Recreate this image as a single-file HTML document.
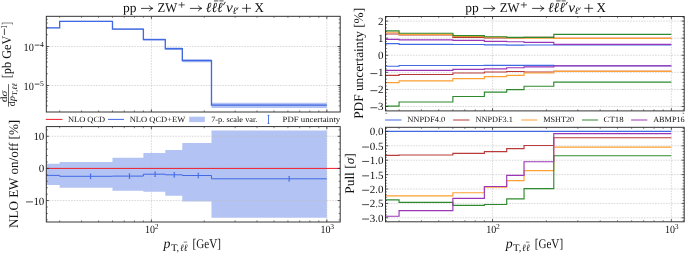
<!DOCTYPE html>
<html><head><meta charset="utf-8"><style>
html,body{margin:0;padding:0;background:#fff;}
svg{display:block;}
.tx{will-change:transform;}
text{font-family:"Liberation Serif",serif;fill:#111;text-rendering:geometricPrecision;}
</style></head><body>
<svg width="685" height="253" viewBox="0 0 685 253">
<rect width="685" height="253" fill="#fff"/>
<clipPath id="cTL"><rect x="46.3" y="16.3" width="293.9" height="95.7"/></clipPath>
<clipPath id="cBL"><rect x="46.3" y="126.6" width="293.9" height="95.4"/></clipPath>
<clipPath id="cTR"><rect x="385.5" y="16.5" width="298.70000000000005" height="94.4"/></clipPath>
<clipPath id="cBR"><rect x="385.5" y="127.3" width="298.70000000000005" height="94.50000000000001"/></clipPath>
<g clip-path="url(#cTL)">
<path d="M46.3,27.19H59.66V20.65H112.48V28.14H143.37V38.5H165.29V47.6H182.3V59H211.48V102.8H326.85V107.9H211.48V62.3H182.3V49.7H165.29V40.57H143.37V29.9H112.48V22.03H59.66V28.33H46.3Z" fill="#b3c3f3"/>
<line x1="46.3" y1="46.5" x2="340.2" y2="46.5" stroke="#c0c0c0" stroke-width="0.6" stroke-dasharray="1.6 1.15"/>
<line x1="46.3" y1="85.5" x2="340.2" y2="85.5" stroke="#c0c0c0" stroke-width="0.6" stroke-dasharray="1.6 1.15"/>
<line x1="151.4" y1="16.3" x2="151.4" y2="112" stroke="#c0c0c0" stroke-width="0.6" stroke-dasharray="1.6 1.15"/>
<line x1="326.85" y1="16.3" x2="326.85" y2="112" stroke="#c0c0c0" stroke-width="0.6" stroke-dasharray="1.6 1.15"/>
<line x1="151.4" y1="16.3" x2="151.4" y2="18.9" stroke="#2a2a2a" stroke-width="0.8" />
<line x1="151.4" y1="112" x2="151.4" y2="109.4" stroke="#2a2a2a" stroke-width="0.8" />
<line x1="326.85" y1="16.3" x2="326.85" y2="18.9" stroke="#2a2a2a" stroke-width="0.8" />
<line x1="326.85" y1="112" x2="326.85" y2="109.4" stroke="#2a2a2a" stroke-width="0.8" />
<line x1="59.66" y1="16.3" x2="59.66" y2="17.9" stroke="#2a2a2a" stroke-width="0.6" />
<line x1="59.66" y1="112" x2="59.66" y2="110.4" stroke="#2a2a2a" stroke-width="0.6" />
<line x1="81.58" y1="16.3" x2="81.58" y2="17.9" stroke="#2a2a2a" stroke-width="0.6" />
<line x1="81.58" y1="112" x2="81.58" y2="110.4" stroke="#2a2a2a" stroke-width="0.6" />
<line x1="98.58" y1="16.3" x2="98.58" y2="17.9" stroke="#2a2a2a" stroke-width="0.6" />
<line x1="98.58" y1="112" x2="98.58" y2="110.4" stroke="#2a2a2a" stroke-width="0.6" />
<line x1="112.48" y1="16.3" x2="112.48" y2="17.9" stroke="#2a2a2a" stroke-width="0.6" />
<line x1="112.48" y1="112" x2="112.48" y2="110.4" stroke="#2a2a2a" stroke-width="0.6" />
<line x1="124.22" y1="16.3" x2="124.22" y2="17.9" stroke="#2a2a2a" stroke-width="0.6" />
<line x1="124.22" y1="112" x2="124.22" y2="110.4" stroke="#2a2a2a" stroke-width="0.6" />
<line x1="134.4" y1="16.3" x2="134.4" y2="17.9" stroke="#2a2a2a" stroke-width="0.6" />
<line x1="134.4" y1="112" x2="134.4" y2="110.4" stroke="#2a2a2a" stroke-width="0.6" />
<line x1="143.37" y1="16.3" x2="143.37" y2="17.9" stroke="#2a2a2a" stroke-width="0.6" />
<line x1="143.37" y1="112" x2="143.37" y2="110.4" stroke="#2a2a2a" stroke-width="0.6" />
<line x1="204.22" y1="16.3" x2="204.22" y2="17.9" stroke="#2a2a2a" stroke-width="0.6" />
<line x1="204.22" y1="112" x2="204.22" y2="110.4" stroke="#2a2a2a" stroke-width="0.6" />
<line x1="235.11" y1="16.3" x2="235.11" y2="17.9" stroke="#2a2a2a" stroke-width="0.6" />
<line x1="235.11" y1="112" x2="235.11" y2="110.4" stroke="#2a2a2a" stroke-width="0.6" />
<line x1="257.03" y1="16.3" x2="257.03" y2="17.9" stroke="#2a2a2a" stroke-width="0.6" />
<line x1="257.03" y1="112" x2="257.03" y2="110.4" stroke="#2a2a2a" stroke-width="0.6" />
<line x1="274.03" y1="16.3" x2="274.03" y2="17.9" stroke="#2a2a2a" stroke-width="0.6" />
<line x1="274.03" y1="112" x2="274.03" y2="110.4" stroke="#2a2a2a" stroke-width="0.6" />
<line x1="287.93" y1="16.3" x2="287.93" y2="17.9" stroke="#2a2a2a" stroke-width="0.6" />
<line x1="287.93" y1="112" x2="287.93" y2="110.4" stroke="#2a2a2a" stroke-width="0.6" />
<line x1="299.67" y1="16.3" x2="299.67" y2="17.9" stroke="#2a2a2a" stroke-width="0.6" />
<line x1="299.67" y1="112" x2="299.67" y2="110.4" stroke="#2a2a2a" stroke-width="0.6" />
<line x1="309.85" y1="16.3" x2="309.85" y2="17.9" stroke="#2a2a2a" stroke-width="0.6" />
<line x1="309.85" y1="112" x2="309.85" y2="110.4" stroke="#2a2a2a" stroke-width="0.6" />
<line x1="318.82" y1="16.3" x2="318.82" y2="17.9" stroke="#2a2a2a" stroke-width="0.6" />
<line x1="318.82" y1="112" x2="318.82" y2="110.4" stroke="#2a2a2a" stroke-width="0.6" />
<path d="M46.3,27.8H59.66V21.4H112.48V29.1H143.37V39.6H165.29V48.7H182.3V60.6H211.48V105.1H326.85" fill="none" stroke="#4169e1" stroke-width="1.35"/>
</g>
<line x1="46.3" y1="46.5" x2="48.9" y2="46.5" stroke="#2a2a2a" stroke-width="0.8" />
<line x1="340.2" y1="46.5" x2="337.6" y2="46.5" stroke="#2a2a2a" stroke-width="0.8" />
<line x1="46.3" y1="85.5" x2="48.9" y2="85.5" stroke="#2a2a2a" stroke-width="0.8" />
<line x1="340.2" y1="85.5" x2="337.6" y2="85.5" stroke="#2a2a2a" stroke-width="0.8" />
<line x1="46.3" y1="105.89" x2="47.9" y2="105.89" stroke="#2a2a2a" stroke-width="0.6" />
<line x1="340.2" y1="105.89" x2="338.6" y2="105.89" stroke="#2a2a2a" stroke-width="0.6" />
<line x1="46.3" y1="101.02" x2="47.9" y2="101.02" stroke="#2a2a2a" stroke-width="0.6" />
<line x1="340.2" y1="101.02" x2="338.6" y2="101.02" stroke="#2a2a2a" stroke-width="0.6" />
<line x1="46.3" y1="97.24" x2="47.9" y2="97.24" stroke="#2a2a2a" stroke-width="0.6" />
<line x1="340.2" y1="97.24" x2="338.6" y2="97.24" stroke="#2a2a2a" stroke-width="0.6" />
<line x1="46.3" y1="94.15" x2="47.9" y2="94.15" stroke="#2a2a2a" stroke-width="0.6" />
<line x1="340.2" y1="94.15" x2="338.6" y2="94.15" stroke="#2a2a2a" stroke-width="0.6" />
<line x1="46.3" y1="91.54" x2="47.9" y2="91.54" stroke="#2a2a2a" stroke-width="0.6" />
<line x1="340.2" y1="91.54" x2="338.6" y2="91.54" stroke="#2a2a2a" stroke-width="0.6" />
<line x1="46.3" y1="89.28" x2="47.9" y2="89.28" stroke="#2a2a2a" stroke-width="0.6" />
<line x1="340.2" y1="89.28" x2="338.6" y2="89.28" stroke="#2a2a2a" stroke-width="0.6" />
<line x1="46.3" y1="87.28" x2="47.9" y2="87.28" stroke="#2a2a2a" stroke-width="0.6" />
<line x1="340.2" y1="87.28" x2="338.6" y2="87.28" stroke="#2a2a2a" stroke-width="0.6" />
<line x1="46.3" y1="73.76" x2="47.9" y2="73.76" stroke="#2a2a2a" stroke-width="0.6" />
<line x1="340.2" y1="73.76" x2="338.6" y2="73.76" stroke="#2a2a2a" stroke-width="0.6" />
<line x1="46.3" y1="66.89" x2="47.9" y2="66.89" stroke="#2a2a2a" stroke-width="0.6" />
<line x1="340.2" y1="66.89" x2="338.6" y2="66.89" stroke="#2a2a2a" stroke-width="0.6" />
<line x1="46.3" y1="62.02" x2="47.9" y2="62.02" stroke="#2a2a2a" stroke-width="0.6" />
<line x1="340.2" y1="62.02" x2="338.6" y2="62.02" stroke="#2a2a2a" stroke-width="0.6" />
<line x1="46.3" y1="58.24" x2="47.9" y2="58.24" stroke="#2a2a2a" stroke-width="0.6" />
<line x1="340.2" y1="58.24" x2="338.6" y2="58.24" stroke="#2a2a2a" stroke-width="0.6" />
<line x1="46.3" y1="55.15" x2="47.9" y2="55.15" stroke="#2a2a2a" stroke-width="0.6" />
<line x1="340.2" y1="55.15" x2="338.6" y2="55.15" stroke="#2a2a2a" stroke-width="0.6" />
<line x1="46.3" y1="52.54" x2="47.9" y2="52.54" stroke="#2a2a2a" stroke-width="0.6" />
<line x1="340.2" y1="52.54" x2="338.6" y2="52.54" stroke="#2a2a2a" stroke-width="0.6" />
<line x1="46.3" y1="50.28" x2="47.9" y2="50.28" stroke="#2a2a2a" stroke-width="0.6" />
<line x1="340.2" y1="50.28" x2="338.6" y2="50.28" stroke="#2a2a2a" stroke-width="0.6" />
<line x1="46.3" y1="48.28" x2="47.9" y2="48.28" stroke="#2a2a2a" stroke-width="0.6" />
<line x1="340.2" y1="48.28" x2="338.6" y2="48.28" stroke="#2a2a2a" stroke-width="0.6" />
<line x1="46.3" y1="34.76" x2="47.9" y2="34.76" stroke="#2a2a2a" stroke-width="0.6" />
<line x1="340.2" y1="34.76" x2="338.6" y2="34.76" stroke="#2a2a2a" stroke-width="0.6" />
<line x1="46.3" y1="27.89" x2="47.9" y2="27.89" stroke="#2a2a2a" stroke-width="0.6" />
<line x1="340.2" y1="27.89" x2="338.6" y2="27.89" stroke="#2a2a2a" stroke-width="0.6" />
<line x1="46.3" y1="23.02" x2="47.9" y2="23.02" stroke="#2a2a2a" stroke-width="0.6" />
<line x1="340.2" y1="23.02" x2="338.6" y2="23.02" stroke="#2a2a2a" stroke-width="0.6" />
<line x1="46.3" y1="19.24" x2="47.9" y2="19.24" stroke="#2a2a2a" stroke-width="0.6" />
<line x1="340.2" y1="19.24" x2="338.6" y2="19.24" stroke="#2a2a2a" stroke-width="0.6" />
<rect x="46.3" y="16.3" width="293.9" height="95.7" fill="none" stroke="#2a2a2a" stroke-width="0.95"/>
<g clip-path="url(#cBL)">
<path d="M46.3,163.75H59.66V162H112.48V157.8H143.37V153H165.29V149.9H182.3V142.9H211.48V130.4H326.85V217.7H211.48V201.5H182.3V195.8H165.29V191.8H143.37V190.7H112.48V187.7H59.66V185.1H46.3Z" fill="#b3c3f3"/>
<line x1="46.3" y1="136.27" x2="340.2" y2="136.27" stroke="#c0c0c0" stroke-width="0.6" stroke-dasharray="1.6 1.15"/>
<line x1="46.3" y1="168.42" x2="340.2" y2="168.42" stroke="#c0c0c0" stroke-width="0.6" stroke-dasharray="1.6 1.15"/>
<line x1="46.3" y1="200.57" x2="340.2" y2="200.57" stroke="#c0c0c0" stroke-width="0.6" stroke-dasharray="1.6 1.15"/>
<line x1="151.4" y1="126.6" x2="151.4" y2="222" stroke="#c0c0c0" stroke-width="0.6" stroke-dasharray="1.6 1.15"/>
<line x1="326.85" y1="126.6" x2="326.85" y2="222" stroke="#c0c0c0" stroke-width="0.6" stroke-dasharray="1.6 1.15"/>
<line x1="151.4" y1="126.6" x2="151.4" y2="129.2" stroke="#2a2a2a" stroke-width="0.8" />
<line x1="151.4" y1="222" x2="151.4" y2="219.4" stroke="#2a2a2a" stroke-width="0.8" />
<line x1="326.85" y1="126.6" x2="326.85" y2="129.2" stroke="#2a2a2a" stroke-width="0.8" />
<line x1="326.85" y1="222" x2="326.85" y2="219.4" stroke="#2a2a2a" stroke-width="0.8" />
<line x1="59.66" y1="126.6" x2="59.66" y2="128.2" stroke="#2a2a2a" stroke-width="0.6" />
<line x1="59.66" y1="222" x2="59.66" y2="220.4" stroke="#2a2a2a" stroke-width="0.6" />
<line x1="81.58" y1="126.6" x2="81.58" y2="128.2" stroke="#2a2a2a" stroke-width="0.6" />
<line x1="81.58" y1="222" x2="81.58" y2="220.4" stroke="#2a2a2a" stroke-width="0.6" />
<line x1="98.58" y1="126.6" x2="98.58" y2="128.2" stroke="#2a2a2a" stroke-width="0.6" />
<line x1="98.58" y1="222" x2="98.58" y2="220.4" stroke="#2a2a2a" stroke-width="0.6" />
<line x1="112.48" y1="126.6" x2="112.48" y2="128.2" stroke="#2a2a2a" stroke-width="0.6" />
<line x1="112.48" y1="222" x2="112.48" y2="220.4" stroke="#2a2a2a" stroke-width="0.6" />
<line x1="124.22" y1="126.6" x2="124.22" y2="128.2" stroke="#2a2a2a" stroke-width="0.6" />
<line x1="124.22" y1="222" x2="124.22" y2="220.4" stroke="#2a2a2a" stroke-width="0.6" />
<line x1="134.4" y1="126.6" x2="134.4" y2="128.2" stroke="#2a2a2a" stroke-width="0.6" />
<line x1="134.4" y1="222" x2="134.4" y2="220.4" stroke="#2a2a2a" stroke-width="0.6" />
<line x1="143.37" y1="126.6" x2="143.37" y2="128.2" stroke="#2a2a2a" stroke-width="0.6" />
<line x1="143.37" y1="222" x2="143.37" y2="220.4" stroke="#2a2a2a" stroke-width="0.6" />
<line x1="204.22" y1="126.6" x2="204.22" y2="128.2" stroke="#2a2a2a" stroke-width="0.6" />
<line x1="204.22" y1="222" x2="204.22" y2="220.4" stroke="#2a2a2a" stroke-width="0.6" />
<line x1="235.11" y1="126.6" x2="235.11" y2="128.2" stroke="#2a2a2a" stroke-width="0.6" />
<line x1="235.11" y1="222" x2="235.11" y2="220.4" stroke="#2a2a2a" stroke-width="0.6" />
<line x1="257.03" y1="126.6" x2="257.03" y2="128.2" stroke="#2a2a2a" stroke-width="0.6" />
<line x1="257.03" y1="222" x2="257.03" y2="220.4" stroke="#2a2a2a" stroke-width="0.6" />
<line x1="274.03" y1="126.6" x2="274.03" y2="128.2" stroke="#2a2a2a" stroke-width="0.6" />
<line x1="274.03" y1="222" x2="274.03" y2="220.4" stroke="#2a2a2a" stroke-width="0.6" />
<line x1="287.93" y1="126.6" x2="287.93" y2="128.2" stroke="#2a2a2a" stroke-width="0.6" />
<line x1="287.93" y1="222" x2="287.93" y2="220.4" stroke="#2a2a2a" stroke-width="0.6" />
<line x1="299.67" y1="126.6" x2="299.67" y2="128.2" stroke="#2a2a2a" stroke-width="0.6" />
<line x1="299.67" y1="222" x2="299.67" y2="220.4" stroke="#2a2a2a" stroke-width="0.6" />
<line x1="309.85" y1="126.6" x2="309.85" y2="128.2" stroke="#2a2a2a" stroke-width="0.6" />
<line x1="309.85" y1="222" x2="309.85" y2="220.4" stroke="#2a2a2a" stroke-width="0.6" />
<line x1="318.82" y1="126.6" x2="318.82" y2="128.2" stroke="#2a2a2a" stroke-width="0.6" />
<line x1="318.82" y1="222" x2="318.82" y2="220.4" stroke="#2a2a2a" stroke-width="0.6" />
<line x1="46.3" y1="168.42" x2="340.2" y2="168.42" stroke="#f01e2c" stroke-width="1.0" />
<path d="M46.3,175.4H59.66V176.3H112.48V176.1H143.37V174.2H165.29V174.8H182.3V175.5H211.48V178.8H326.85" fill="none" stroke="#4169e1" stroke-width="1.0"/>
<line x1="90.56" y1="174" x2="90.56" y2="178.6" stroke="#4169e1" stroke-width="1.0" />
<line x1="89.66" y1="174" x2="91.46" y2="174" stroke="#4169e1" stroke-width="0.6" />
<line x1="89.66" y1="178.6" x2="91.46" y2="178.6" stroke="#4169e1" stroke-width="0.6" />
<line x1="129.48" y1="173.8" x2="129.48" y2="178.4" stroke="#4169e1" stroke-width="1.0" />
<line x1="128.58" y1="173.8" x2="130.38" y2="173.8" stroke="#4169e1" stroke-width="0.6" />
<line x1="128.58" y1="178.4" x2="130.38" y2="178.4" stroke="#4169e1" stroke-width="0.6" />
<line x1="155.12" y1="171.9" x2="155.12" y2="176.5" stroke="#4169e1" stroke-width="1.0" />
<line x1="154.22" y1="171.9" x2="156.02" y2="171.9" stroke="#4169e1" stroke-width="0.6" />
<line x1="154.22" y1="176.5" x2="156.02" y2="176.5" stroke="#4169e1" stroke-width="0.6" />
<line x1="174.27" y1="172.5" x2="174.27" y2="177.1" stroke="#4169e1" stroke-width="1.0" />
<line x1="173.37" y1="172.5" x2="175.17" y2="172.5" stroke="#4169e1" stroke-width="0.6" />
<line x1="173.37" y1="177.1" x2="175.17" y2="177.1" stroke="#4169e1" stroke-width="0.6" />
<line x1="198.28" y1="173.2" x2="198.28" y2="177.8" stroke="#4169e1" stroke-width="1.0" />
<line x1="197.38" y1="173.2" x2="199.18" y2="173.2" stroke="#4169e1" stroke-width="0.6" />
<line x1="197.38" y1="177.8" x2="199.18" y2="177.8" stroke="#4169e1" stroke-width="0.6" />
<line x1="289.19" y1="176.5" x2="289.19" y2="181.1" stroke="#4169e1" stroke-width="1.0" />
<line x1="288.29" y1="176.5" x2="290.09" y2="176.5" stroke="#4169e1" stroke-width="0.6" />
<line x1="288.29" y1="181.1" x2="290.09" y2="181.1" stroke="#4169e1" stroke-width="0.6" />
</g>
<line x1="46.3" y1="136.27" x2="48.9" y2="136.27" stroke="#2a2a2a" stroke-width="0.8" />
<line x1="340.2" y1="136.27" x2="337.6" y2="136.27" stroke="#2a2a2a" stroke-width="0.8" />
<line x1="46.3" y1="168.42" x2="48.9" y2="168.42" stroke="#2a2a2a" stroke-width="0.8" />
<line x1="340.2" y1="168.42" x2="337.6" y2="168.42" stroke="#2a2a2a" stroke-width="0.8" />
<line x1="46.3" y1="200.57" x2="48.9" y2="200.57" stroke="#2a2a2a" stroke-width="0.8" />
<line x1="340.2" y1="200.57" x2="337.6" y2="200.57" stroke="#2a2a2a" stroke-width="0.8" />
<line x1="46.3" y1="219.86" x2="47.9" y2="219.86" stroke="#2a2a2a" stroke-width="0.6" />
<line x1="340.2" y1="219.86" x2="338.6" y2="219.86" stroke="#2a2a2a" stroke-width="0.6" />
<line x1="46.3" y1="213.43" x2="47.9" y2="213.43" stroke="#2a2a2a" stroke-width="0.6" />
<line x1="340.2" y1="213.43" x2="338.6" y2="213.43" stroke="#2a2a2a" stroke-width="0.6" />
<line x1="46.3" y1="207" x2="47.9" y2="207" stroke="#2a2a2a" stroke-width="0.6" />
<line x1="340.2" y1="207" x2="338.6" y2="207" stroke="#2a2a2a" stroke-width="0.6" />
<line x1="46.3" y1="194.14" x2="47.9" y2="194.14" stroke="#2a2a2a" stroke-width="0.6" />
<line x1="340.2" y1="194.14" x2="338.6" y2="194.14" stroke="#2a2a2a" stroke-width="0.6" />
<line x1="46.3" y1="187.71" x2="47.9" y2="187.71" stroke="#2a2a2a" stroke-width="0.6" />
<line x1="340.2" y1="187.71" x2="338.6" y2="187.71" stroke="#2a2a2a" stroke-width="0.6" />
<line x1="46.3" y1="181.28" x2="47.9" y2="181.28" stroke="#2a2a2a" stroke-width="0.6" />
<line x1="340.2" y1="181.28" x2="338.6" y2="181.28" stroke="#2a2a2a" stroke-width="0.6" />
<line x1="46.3" y1="174.85" x2="47.9" y2="174.85" stroke="#2a2a2a" stroke-width="0.6" />
<line x1="340.2" y1="174.85" x2="338.6" y2="174.85" stroke="#2a2a2a" stroke-width="0.6" />
<line x1="46.3" y1="161.99" x2="47.9" y2="161.99" stroke="#2a2a2a" stroke-width="0.6" />
<line x1="340.2" y1="161.99" x2="338.6" y2="161.99" stroke="#2a2a2a" stroke-width="0.6" />
<line x1="46.3" y1="155.56" x2="47.9" y2="155.56" stroke="#2a2a2a" stroke-width="0.6" />
<line x1="340.2" y1="155.56" x2="338.6" y2="155.56" stroke="#2a2a2a" stroke-width="0.6" />
<line x1="46.3" y1="149.13" x2="47.9" y2="149.13" stroke="#2a2a2a" stroke-width="0.6" />
<line x1="340.2" y1="149.13" x2="338.6" y2="149.13" stroke="#2a2a2a" stroke-width="0.6" />
<line x1="46.3" y1="142.7" x2="47.9" y2="142.7" stroke="#2a2a2a" stroke-width="0.6" />
<line x1="340.2" y1="142.7" x2="338.6" y2="142.7" stroke="#2a2a2a" stroke-width="0.6" />
<line x1="46.3" y1="129.84" x2="47.9" y2="129.84" stroke="#2a2a2a" stroke-width="0.6" />
<line x1="340.2" y1="129.84" x2="338.6" y2="129.84" stroke="#2a2a2a" stroke-width="0.6" />
<rect x="46.3" y="126.6" width="293.9" height="95.4" fill="none" stroke="#2a2a2a" stroke-width="0.95"/>
<g clip-path="url(#cTR)">
<line x1="385.5" y1="106.49" x2="684.2" y2="106.49" stroke="#c0c0c0" stroke-width="0.6" stroke-dasharray="1.6 1.15"/>
<line x1="385.5" y1="89.41" x2="684.2" y2="89.41" stroke="#c0c0c0" stroke-width="0.6" stroke-dasharray="1.6 1.15"/>
<line x1="385.5" y1="72.33" x2="684.2" y2="72.33" stroke="#c0c0c0" stroke-width="0.6" stroke-dasharray="1.6 1.15"/>
<line x1="385.5" y1="55.25" x2="684.2" y2="55.25" stroke="#c0c0c0" stroke-width="0.6" stroke-dasharray="1.6 1.15"/>
<line x1="385.5" y1="38.17" x2="684.2" y2="38.17" stroke="#c0c0c0" stroke-width="0.6" stroke-dasharray="1.6 1.15"/>
<line x1="385.5" y1="21.09" x2="684.2" y2="21.09" stroke="#c0c0c0" stroke-width="0.6" stroke-dasharray="1.6 1.15"/>
<line x1="492.55" y1="16.5" x2="492.55" y2="110.9" stroke="#c0c0c0" stroke-width="0.6" stroke-dasharray="1.6 1.15"/>
<line x1="671.35" y1="16.5" x2="671.35" y2="110.9" stroke="#c0c0c0" stroke-width="0.6" stroke-dasharray="1.6 1.15"/>
<line x1="492.55" y1="16.5" x2="492.55" y2="19.1" stroke="#2a2a2a" stroke-width="0.8" />
<line x1="492.55" y1="110.9" x2="492.55" y2="108.3" stroke="#2a2a2a" stroke-width="0.8" />
<line x1="671.35" y1="16.5" x2="671.35" y2="19.1" stroke="#2a2a2a" stroke-width="0.8" />
<line x1="671.35" y1="110.9" x2="671.35" y2="108.3" stroke="#2a2a2a" stroke-width="0.8" />
<line x1="399.06" y1="16.5" x2="399.06" y2="18.1" stroke="#2a2a2a" stroke-width="0.6" />
<line x1="399.06" y1="110.9" x2="399.06" y2="109.3" stroke="#2a2a2a" stroke-width="0.6" />
<line x1="421.4" y1="16.5" x2="421.4" y2="18.1" stroke="#2a2a2a" stroke-width="0.6" />
<line x1="421.4" y1="110.9" x2="421.4" y2="109.3" stroke="#2a2a2a" stroke-width="0.6" />
<line x1="438.73" y1="16.5" x2="438.73" y2="18.1" stroke="#2a2a2a" stroke-width="0.6" />
<line x1="438.73" y1="110.9" x2="438.73" y2="109.3" stroke="#2a2a2a" stroke-width="0.6" />
<line x1="452.88" y1="16.5" x2="452.88" y2="18.1" stroke="#2a2a2a" stroke-width="0.6" />
<line x1="452.88" y1="110.9" x2="452.88" y2="109.3" stroke="#2a2a2a" stroke-width="0.6" />
<line x1="464.85" y1="16.5" x2="464.85" y2="18.1" stroke="#2a2a2a" stroke-width="0.6" />
<line x1="464.85" y1="110.9" x2="464.85" y2="109.3" stroke="#2a2a2a" stroke-width="0.6" />
<line x1="475.22" y1="16.5" x2="475.22" y2="18.1" stroke="#2a2a2a" stroke-width="0.6" />
<line x1="475.22" y1="110.9" x2="475.22" y2="109.3" stroke="#2a2a2a" stroke-width="0.6" />
<line x1="484.37" y1="16.5" x2="484.37" y2="18.1" stroke="#2a2a2a" stroke-width="0.6" />
<line x1="484.37" y1="110.9" x2="484.37" y2="109.3" stroke="#2a2a2a" stroke-width="0.6" />
<line x1="546.37" y1="16.5" x2="546.37" y2="18.1" stroke="#2a2a2a" stroke-width="0.6" />
<line x1="546.37" y1="110.9" x2="546.37" y2="109.3" stroke="#2a2a2a" stroke-width="0.6" />
<line x1="577.86" y1="16.5" x2="577.86" y2="18.1" stroke="#2a2a2a" stroke-width="0.6" />
<line x1="577.86" y1="110.9" x2="577.86" y2="109.3" stroke="#2a2a2a" stroke-width="0.6" />
<line x1="600.2" y1="16.5" x2="600.2" y2="18.1" stroke="#2a2a2a" stroke-width="0.6" />
<line x1="600.2" y1="110.9" x2="600.2" y2="109.3" stroke="#2a2a2a" stroke-width="0.6" />
<line x1="617.53" y1="16.5" x2="617.53" y2="18.1" stroke="#2a2a2a" stroke-width="0.6" />
<line x1="617.53" y1="110.9" x2="617.53" y2="109.3" stroke="#2a2a2a" stroke-width="0.6" />
<line x1="631.68" y1="16.5" x2="631.68" y2="18.1" stroke="#2a2a2a" stroke-width="0.6" />
<line x1="631.68" y1="110.9" x2="631.68" y2="109.3" stroke="#2a2a2a" stroke-width="0.6" />
<line x1="643.65" y1="16.5" x2="643.65" y2="18.1" stroke="#2a2a2a" stroke-width="0.6" />
<line x1="643.65" y1="110.9" x2="643.65" y2="109.3" stroke="#2a2a2a" stroke-width="0.6" />
<line x1="654.02" y1="16.5" x2="654.02" y2="18.1" stroke="#2a2a2a" stroke-width="0.6" />
<line x1="654.02" y1="110.9" x2="654.02" y2="109.3" stroke="#2a2a2a" stroke-width="0.6" />
<line x1="663.17" y1="16.5" x2="663.17" y2="18.1" stroke="#2a2a2a" stroke-width="0.6" />
<line x1="663.17" y1="110.9" x2="663.17" y2="109.3" stroke="#2a2a2a" stroke-width="0.6" />
<path d="M385.5,43.6H399.06V44.4H452.88V44.5H484.37V44.9H506.71V45.1H524.04V45H553.78V44.8H671.35" fill="none" stroke="#4169e1" stroke-width="1.15"/>
<path d="M385.5,66.2H399.06V65.5H452.88V65.5H484.37V65.3H506.71V65.3H524.04V65.3H553.78V65.7H671.35" fill="none" stroke="#4169e1" stroke-width="1.15"/>
<path d="M385.5,34H399.06V34.9H452.88V37.4H484.37V37.8H506.71V37.9H524.04V37.4H553.78V38.3H671.35" fill="none" stroke="#b83a3a" stroke-width="1.15"/>
<path d="M385.5,75.4H399.06V74.5H452.88V73H484.37V72H506.71V71.5H524.04V72H553.78V71.3H671.35" fill="none" stroke="#b83a3a" stroke-width="1.15"/>
<path d="M385.5,32.2H399.06V34.4H452.88V36.5H484.37V37.2H506.71V37.9H524.04V38.1H553.78V38.3H671.35" fill="none" stroke="#ffa033" stroke-width="1.15"/>
<path d="M385.5,82.6H399.06V80.8H452.88V78.6H484.37V76.6H506.71V75.3H524.04V73H553.78V71.3H671.35" fill="none" stroke="#ffa033" stroke-width="1.15"/>
<path d="M385.5,30.8H399.06V33.2H452.88V35.6H484.37V36.7H506.71V37.4H524.04V37.4H553.78V34.3H671.35" fill="none" stroke="#2f8a2f" stroke-width="1.15"/>
<path d="M385.5,106.1H399.06V102H452.88V96.5H484.37V92.1H506.71V89.6H524.04V86.2H553.78V82.1H671.35" fill="none" stroke="#2f8a2f" stroke-width="1.15"/>
<path d="M385.5,39.3H399.06V39.9H452.88V40.3H484.37V41.4H506.71V41.7H524.04V42.4H553.78V44.3H671.35" fill="none" stroke="#9b36b7" stroke-width="1.15"/>
<path d="M385.5,70.3H399.06V70.3H452.88V69.3H484.37V68.8H506.71V67.7H524.04V66.8H553.78V65.9H671.35" fill="none" stroke="#9b36b7" stroke-width="1.15"/>
</g>
<line x1="385.5" y1="106.49" x2="388.1" y2="106.49" stroke="#2a2a2a" stroke-width="0.8" />
<line x1="684.2" y1="106.49" x2="681.6" y2="106.49" stroke="#2a2a2a" stroke-width="0.8" />
<line x1="385.5" y1="89.41" x2="388.1" y2="89.41" stroke="#2a2a2a" stroke-width="0.8" />
<line x1="684.2" y1="89.41" x2="681.6" y2="89.41" stroke="#2a2a2a" stroke-width="0.8" />
<line x1="385.5" y1="72.33" x2="388.1" y2="72.33" stroke="#2a2a2a" stroke-width="0.8" />
<line x1="684.2" y1="72.33" x2="681.6" y2="72.33" stroke="#2a2a2a" stroke-width="0.8" />
<line x1="385.5" y1="55.25" x2="388.1" y2="55.25" stroke="#2a2a2a" stroke-width="0.8" />
<line x1="684.2" y1="55.25" x2="681.6" y2="55.25" stroke="#2a2a2a" stroke-width="0.8" />
<line x1="385.5" y1="38.17" x2="388.1" y2="38.17" stroke="#2a2a2a" stroke-width="0.8" />
<line x1="684.2" y1="38.17" x2="681.6" y2="38.17" stroke="#2a2a2a" stroke-width="0.8" />
<line x1="385.5" y1="21.09" x2="388.1" y2="21.09" stroke="#2a2a2a" stroke-width="0.8" />
<line x1="684.2" y1="21.09" x2="681.6" y2="21.09" stroke="#2a2a2a" stroke-width="0.8" />
<line x1="385.5" y1="113.32" x2="387.1" y2="113.32" stroke="#2a2a2a" stroke-width="0.6" />
<line x1="684.2" y1="113.32" x2="682.6" y2="113.32" stroke="#2a2a2a" stroke-width="0.6" />
<line x1="385.5" y1="109.91" x2="387.1" y2="109.91" stroke="#2a2a2a" stroke-width="0.6" />
<line x1="684.2" y1="109.91" x2="682.6" y2="109.91" stroke="#2a2a2a" stroke-width="0.6" />
<line x1="385.5" y1="103.07" x2="387.1" y2="103.07" stroke="#2a2a2a" stroke-width="0.6" />
<line x1="684.2" y1="103.07" x2="682.6" y2="103.07" stroke="#2a2a2a" stroke-width="0.6" />
<line x1="385.5" y1="99.66" x2="387.1" y2="99.66" stroke="#2a2a2a" stroke-width="0.6" />
<line x1="684.2" y1="99.66" x2="682.6" y2="99.66" stroke="#2a2a2a" stroke-width="0.6" />
<line x1="385.5" y1="96.24" x2="387.1" y2="96.24" stroke="#2a2a2a" stroke-width="0.6" />
<line x1="684.2" y1="96.24" x2="682.6" y2="96.24" stroke="#2a2a2a" stroke-width="0.6" />
<line x1="385.5" y1="92.83" x2="387.1" y2="92.83" stroke="#2a2a2a" stroke-width="0.6" />
<line x1="684.2" y1="92.83" x2="682.6" y2="92.83" stroke="#2a2a2a" stroke-width="0.6" />
<line x1="385.5" y1="85.99" x2="387.1" y2="85.99" stroke="#2a2a2a" stroke-width="0.6" />
<line x1="684.2" y1="85.99" x2="682.6" y2="85.99" stroke="#2a2a2a" stroke-width="0.6" />
<line x1="385.5" y1="82.58" x2="387.1" y2="82.58" stroke="#2a2a2a" stroke-width="0.6" />
<line x1="684.2" y1="82.58" x2="682.6" y2="82.58" stroke="#2a2a2a" stroke-width="0.6" />
<line x1="385.5" y1="79.16" x2="387.1" y2="79.16" stroke="#2a2a2a" stroke-width="0.6" />
<line x1="684.2" y1="79.16" x2="682.6" y2="79.16" stroke="#2a2a2a" stroke-width="0.6" />
<line x1="385.5" y1="75.75" x2="387.1" y2="75.75" stroke="#2a2a2a" stroke-width="0.6" />
<line x1="684.2" y1="75.75" x2="682.6" y2="75.75" stroke="#2a2a2a" stroke-width="0.6" />
<line x1="385.5" y1="68.91" x2="387.1" y2="68.91" stroke="#2a2a2a" stroke-width="0.6" />
<line x1="684.2" y1="68.91" x2="682.6" y2="68.91" stroke="#2a2a2a" stroke-width="0.6" />
<line x1="385.5" y1="65.5" x2="387.1" y2="65.5" stroke="#2a2a2a" stroke-width="0.6" />
<line x1="684.2" y1="65.5" x2="682.6" y2="65.5" stroke="#2a2a2a" stroke-width="0.6" />
<line x1="385.5" y1="62.08" x2="387.1" y2="62.08" stroke="#2a2a2a" stroke-width="0.6" />
<line x1="684.2" y1="62.08" x2="682.6" y2="62.08" stroke="#2a2a2a" stroke-width="0.6" />
<line x1="385.5" y1="58.67" x2="387.1" y2="58.67" stroke="#2a2a2a" stroke-width="0.6" />
<line x1="684.2" y1="58.67" x2="682.6" y2="58.67" stroke="#2a2a2a" stroke-width="0.6" />
<line x1="385.5" y1="51.83" x2="387.1" y2="51.83" stroke="#2a2a2a" stroke-width="0.6" />
<line x1="684.2" y1="51.83" x2="682.6" y2="51.83" stroke="#2a2a2a" stroke-width="0.6" />
<line x1="385.5" y1="48.42" x2="387.1" y2="48.42" stroke="#2a2a2a" stroke-width="0.6" />
<line x1="684.2" y1="48.42" x2="682.6" y2="48.42" stroke="#2a2a2a" stroke-width="0.6" />
<line x1="385.5" y1="45" x2="387.1" y2="45" stroke="#2a2a2a" stroke-width="0.6" />
<line x1="684.2" y1="45" x2="682.6" y2="45" stroke="#2a2a2a" stroke-width="0.6" />
<line x1="385.5" y1="41.59" x2="387.1" y2="41.59" stroke="#2a2a2a" stroke-width="0.6" />
<line x1="684.2" y1="41.59" x2="682.6" y2="41.59" stroke="#2a2a2a" stroke-width="0.6" />
<line x1="385.5" y1="34.75" x2="387.1" y2="34.75" stroke="#2a2a2a" stroke-width="0.6" />
<line x1="684.2" y1="34.75" x2="682.6" y2="34.75" stroke="#2a2a2a" stroke-width="0.6" />
<line x1="385.5" y1="31.34" x2="387.1" y2="31.34" stroke="#2a2a2a" stroke-width="0.6" />
<line x1="684.2" y1="31.34" x2="682.6" y2="31.34" stroke="#2a2a2a" stroke-width="0.6" />
<line x1="385.5" y1="27.92" x2="387.1" y2="27.92" stroke="#2a2a2a" stroke-width="0.6" />
<line x1="684.2" y1="27.92" x2="682.6" y2="27.92" stroke="#2a2a2a" stroke-width="0.6" />
<line x1="385.5" y1="24.51" x2="387.1" y2="24.51" stroke="#2a2a2a" stroke-width="0.6" />
<line x1="684.2" y1="24.51" x2="682.6" y2="24.51" stroke="#2a2a2a" stroke-width="0.6" />
<line x1="385.5" y1="17.67" x2="387.1" y2="17.67" stroke="#2a2a2a" stroke-width="0.6" />
<line x1="684.2" y1="17.67" x2="682.6" y2="17.67" stroke="#2a2a2a" stroke-width="0.6" />
<rect x="385.5" y="16.5" width="298.7" height="94.4" fill="none" stroke="#2a2a2a" stroke-width="0.95"/>
<g clip-path="url(#cBR)">
<line x1="385.5" y1="217.8" x2="684.2" y2="217.8" stroke="#c0c0c0" stroke-width="0.6" stroke-dasharray="1.6 1.15"/>
<line x1="385.5" y1="203.4" x2="684.2" y2="203.4" stroke="#c0c0c0" stroke-width="0.6" stroke-dasharray="1.6 1.15"/>
<line x1="385.5" y1="189" x2="684.2" y2="189" stroke="#c0c0c0" stroke-width="0.6" stroke-dasharray="1.6 1.15"/>
<line x1="385.5" y1="174.6" x2="684.2" y2="174.6" stroke="#c0c0c0" stroke-width="0.6" stroke-dasharray="1.6 1.15"/>
<line x1="385.5" y1="160.2" x2="684.2" y2="160.2" stroke="#c0c0c0" stroke-width="0.6" stroke-dasharray="1.6 1.15"/>
<line x1="385.5" y1="145.8" x2="684.2" y2="145.8" stroke="#c0c0c0" stroke-width="0.6" stroke-dasharray="1.6 1.15"/>
<line x1="385.5" y1="131.4" x2="684.2" y2="131.4" stroke="#c0c0c0" stroke-width="0.6" stroke-dasharray="1.6 1.15"/>
<line x1="492.55" y1="127.3" x2="492.55" y2="221.8" stroke="#c0c0c0" stroke-width="0.6" stroke-dasharray="1.6 1.15"/>
<line x1="671.35" y1="127.3" x2="671.35" y2="221.8" stroke="#c0c0c0" stroke-width="0.6" stroke-dasharray="1.6 1.15"/>
<line x1="492.55" y1="127.3" x2="492.55" y2="129.9" stroke="#2a2a2a" stroke-width="0.8" />
<line x1="492.55" y1="221.8" x2="492.55" y2="219.2" stroke="#2a2a2a" stroke-width="0.8" />
<line x1="671.35" y1="127.3" x2="671.35" y2="129.9" stroke="#2a2a2a" stroke-width="0.8" />
<line x1="671.35" y1="221.8" x2="671.35" y2="219.2" stroke="#2a2a2a" stroke-width="0.8" />
<line x1="399.06" y1="127.3" x2="399.06" y2="128.9" stroke="#2a2a2a" stroke-width="0.6" />
<line x1="399.06" y1="221.8" x2="399.06" y2="220.2" stroke="#2a2a2a" stroke-width="0.6" />
<line x1="421.4" y1="127.3" x2="421.4" y2="128.9" stroke="#2a2a2a" stroke-width="0.6" />
<line x1="421.4" y1="221.8" x2="421.4" y2="220.2" stroke="#2a2a2a" stroke-width="0.6" />
<line x1="438.73" y1="127.3" x2="438.73" y2="128.9" stroke="#2a2a2a" stroke-width="0.6" />
<line x1="438.73" y1="221.8" x2="438.73" y2="220.2" stroke="#2a2a2a" stroke-width="0.6" />
<line x1="452.88" y1="127.3" x2="452.88" y2="128.9" stroke="#2a2a2a" stroke-width="0.6" />
<line x1="452.88" y1="221.8" x2="452.88" y2="220.2" stroke="#2a2a2a" stroke-width="0.6" />
<line x1="464.85" y1="127.3" x2="464.85" y2="128.9" stroke="#2a2a2a" stroke-width="0.6" />
<line x1="464.85" y1="221.8" x2="464.85" y2="220.2" stroke="#2a2a2a" stroke-width="0.6" />
<line x1="475.22" y1="127.3" x2="475.22" y2="128.9" stroke="#2a2a2a" stroke-width="0.6" />
<line x1="475.22" y1="221.8" x2="475.22" y2="220.2" stroke="#2a2a2a" stroke-width="0.6" />
<line x1="484.37" y1="127.3" x2="484.37" y2="128.9" stroke="#2a2a2a" stroke-width="0.6" />
<line x1="484.37" y1="221.8" x2="484.37" y2="220.2" stroke="#2a2a2a" stroke-width="0.6" />
<line x1="546.37" y1="127.3" x2="546.37" y2="128.9" stroke="#2a2a2a" stroke-width="0.6" />
<line x1="546.37" y1="221.8" x2="546.37" y2="220.2" stroke="#2a2a2a" stroke-width="0.6" />
<line x1="577.86" y1="127.3" x2="577.86" y2="128.9" stroke="#2a2a2a" stroke-width="0.6" />
<line x1="577.86" y1="221.8" x2="577.86" y2="220.2" stroke="#2a2a2a" stroke-width="0.6" />
<line x1="600.2" y1="127.3" x2="600.2" y2="128.9" stroke="#2a2a2a" stroke-width="0.6" />
<line x1="600.2" y1="221.8" x2="600.2" y2="220.2" stroke="#2a2a2a" stroke-width="0.6" />
<line x1="617.53" y1="127.3" x2="617.53" y2="128.9" stroke="#2a2a2a" stroke-width="0.6" />
<line x1="617.53" y1="221.8" x2="617.53" y2="220.2" stroke="#2a2a2a" stroke-width="0.6" />
<line x1="631.68" y1="127.3" x2="631.68" y2="128.9" stroke="#2a2a2a" stroke-width="0.6" />
<line x1="631.68" y1="221.8" x2="631.68" y2="220.2" stroke="#2a2a2a" stroke-width="0.6" />
<line x1="643.65" y1="127.3" x2="643.65" y2="128.9" stroke="#2a2a2a" stroke-width="0.6" />
<line x1="643.65" y1="221.8" x2="643.65" y2="220.2" stroke="#2a2a2a" stroke-width="0.6" />
<line x1="654.02" y1="127.3" x2="654.02" y2="128.9" stroke="#2a2a2a" stroke-width="0.6" />
<line x1="654.02" y1="221.8" x2="654.02" y2="220.2" stroke="#2a2a2a" stroke-width="0.6" />
<line x1="663.17" y1="127.3" x2="663.17" y2="128.9" stroke="#2a2a2a" stroke-width="0.6" />
<line x1="663.17" y1="221.8" x2="663.17" y2="220.2" stroke="#2a2a2a" stroke-width="0.6" />
<path d="M385.5,131.4H399.06V131.4H452.88V131.4H484.37V131.4H506.71V131.4H524.04V131.4H553.78V131.4H671.35" fill="none" stroke="#4169e1" stroke-width="1.15"/>
<path d="M385.5,155.3H399.06V155H452.88V153.4H484.37V151.6H506.71V148.6H524.04V145.5H553.78V137.7H671.35" fill="none" stroke="#b83a3a" stroke-width="1.15"/>
<path d="M385.5,195.8H399.06V195.8H452.88V192.7H484.37V187.2H506.71V180.6H524.04V170.6H553.78V147.1H671.35" fill="none" stroke="#ffa033" stroke-width="1.15"/>
<path d="M385.5,199.8H399.06V202.3H452.88V205.4H484.37V204.5H506.71V198.8H524.04V188.6H553.78V155.7H671.35" fill="none" stroke="#2f8a2f" stroke-width="1.15"/>
<path d="M385.5,216.2H399.06V210.6H452.88V198.4H484.37V186.5H506.71V175.3H524.04V161.7H553.78V133.6H671.35" fill="none" stroke="#9b36b7" stroke-width="1.15"/>
</g>
<line x1="385.5" y1="217.8" x2="388.1" y2="217.8" stroke="#2a2a2a" stroke-width="0.8" />
<line x1="684.2" y1="217.8" x2="681.6" y2="217.8" stroke="#2a2a2a" stroke-width="0.8" />
<line x1="385.5" y1="203.4" x2="388.1" y2="203.4" stroke="#2a2a2a" stroke-width="0.8" />
<line x1="684.2" y1="203.4" x2="681.6" y2="203.4" stroke="#2a2a2a" stroke-width="0.8" />
<line x1="385.5" y1="189" x2="388.1" y2="189" stroke="#2a2a2a" stroke-width="0.8" />
<line x1="684.2" y1="189" x2="681.6" y2="189" stroke="#2a2a2a" stroke-width="0.8" />
<line x1="385.5" y1="174.6" x2="388.1" y2="174.6" stroke="#2a2a2a" stroke-width="0.8" />
<line x1="684.2" y1="174.6" x2="681.6" y2="174.6" stroke="#2a2a2a" stroke-width="0.8" />
<line x1="385.5" y1="160.2" x2="388.1" y2="160.2" stroke="#2a2a2a" stroke-width="0.8" />
<line x1="684.2" y1="160.2" x2="681.6" y2="160.2" stroke="#2a2a2a" stroke-width="0.8" />
<line x1="385.5" y1="145.8" x2="388.1" y2="145.8" stroke="#2a2a2a" stroke-width="0.8" />
<line x1="684.2" y1="145.8" x2="681.6" y2="145.8" stroke="#2a2a2a" stroke-width="0.8" />
<line x1="385.5" y1="131.4" x2="388.1" y2="131.4" stroke="#2a2a2a" stroke-width="0.8" />
<line x1="684.2" y1="131.4" x2="681.6" y2="131.4" stroke="#2a2a2a" stroke-width="0.8" />
<line x1="385.5" y1="220.68" x2="387.1" y2="220.68" stroke="#2a2a2a" stroke-width="0.6" />
<line x1="684.2" y1="220.68" x2="682.6" y2="220.68" stroke="#2a2a2a" stroke-width="0.6" />
<line x1="385.5" y1="214.92" x2="387.1" y2="214.92" stroke="#2a2a2a" stroke-width="0.6" />
<line x1="684.2" y1="214.92" x2="682.6" y2="214.92" stroke="#2a2a2a" stroke-width="0.6" />
<line x1="385.5" y1="212.04" x2="387.1" y2="212.04" stroke="#2a2a2a" stroke-width="0.6" />
<line x1="684.2" y1="212.04" x2="682.6" y2="212.04" stroke="#2a2a2a" stroke-width="0.6" />
<line x1="385.5" y1="209.16" x2="387.1" y2="209.16" stroke="#2a2a2a" stroke-width="0.6" />
<line x1="684.2" y1="209.16" x2="682.6" y2="209.16" stroke="#2a2a2a" stroke-width="0.6" />
<line x1="385.5" y1="206.28" x2="387.1" y2="206.28" stroke="#2a2a2a" stroke-width="0.6" />
<line x1="684.2" y1="206.28" x2="682.6" y2="206.28" stroke="#2a2a2a" stroke-width="0.6" />
<line x1="385.5" y1="200.52" x2="387.1" y2="200.52" stroke="#2a2a2a" stroke-width="0.6" />
<line x1="684.2" y1="200.52" x2="682.6" y2="200.52" stroke="#2a2a2a" stroke-width="0.6" />
<line x1="385.5" y1="197.64" x2="387.1" y2="197.64" stroke="#2a2a2a" stroke-width="0.6" />
<line x1="684.2" y1="197.64" x2="682.6" y2="197.64" stroke="#2a2a2a" stroke-width="0.6" />
<line x1="385.5" y1="194.76" x2="387.1" y2="194.76" stroke="#2a2a2a" stroke-width="0.6" />
<line x1="684.2" y1="194.76" x2="682.6" y2="194.76" stroke="#2a2a2a" stroke-width="0.6" />
<line x1="385.5" y1="191.88" x2="387.1" y2="191.88" stroke="#2a2a2a" stroke-width="0.6" />
<line x1="684.2" y1="191.88" x2="682.6" y2="191.88" stroke="#2a2a2a" stroke-width="0.6" />
<line x1="385.5" y1="186.12" x2="387.1" y2="186.12" stroke="#2a2a2a" stroke-width="0.6" />
<line x1="684.2" y1="186.12" x2="682.6" y2="186.12" stroke="#2a2a2a" stroke-width="0.6" />
<line x1="385.5" y1="183.24" x2="387.1" y2="183.24" stroke="#2a2a2a" stroke-width="0.6" />
<line x1="684.2" y1="183.24" x2="682.6" y2="183.24" stroke="#2a2a2a" stroke-width="0.6" />
<line x1="385.5" y1="180.36" x2="387.1" y2="180.36" stroke="#2a2a2a" stroke-width="0.6" />
<line x1="684.2" y1="180.36" x2="682.6" y2="180.36" stroke="#2a2a2a" stroke-width="0.6" />
<line x1="385.5" y1="177.48" x2="387.1" y2="177.48" stroke="#2a2a2a" stroke-width="0.6" />
<line x1="684.2" y1="177.48" x2="682.6" y2="177.48" stroke="#2a2a2a" stroke-width="0.6" />
<line x1="385.5" y1="171.72" x2="387.1" y2="171.72" stroke="#2a2a2a" stroke-width="0.6" />
<line x1="684.2" y1="171.72" x2="682.6" y2="171.72" stroke="#2a2a2a" stroke-width="0.6" />
<line x1="385.5" y1="168.84" x2="387.1" y2="168.84" stroke="#2a2a2a" stroke-width="0.6" />
<line x1="684.2" y1="168.84" x2="682.6" y2="168.84" stroke="#2a2a2a" stroke-width="0.6" />
<line x1="385.5" y1="165.96" x2="387.1" y2="165.96" stroke="#2a2a2a" stroke-width="0.6" />
<line x1="684.2" y1="165.96" x2="682.6" y2="165.96" stroke="#2a2a2a" stroke-width="0.6" />
<line x1="385.5" y1="163.08" x2="387.1" y2="163.08" stroke="#2a2a2a" stroke-width="0.6" />
<line x1="684.2" y1="163.08" x2="682.6" y2="163.08" stroke="#2a2a2a" stroke-width="0.6" />
<line x1="385.5" y1="157.32" x2="387.1" y2="157.32" stroke="#2a2a2a" stroke-width="0.6" />
<line x1="684.2" y1="157.32" x2="682.6" y2="157.32" stroke="#2a2a2a" stroke-width="0.6" />
<line x1="385.5" y1="154.44" x2="387.1" y2="154.44" stroke="#2a2a2a" stroke-width="0.6" />
<line x1="684.2" y1="154.44" x2="682.6" y2="154.44" stroke="#2a2a2a" stroke-width="0.6" />
<line x1="385.5" y1="151.56" x2="387.1" y2="151.56" stroke="#2a2a2a" stroke-width="0.6" />
<line x1="684.2" y1="151.56" x2="682.6" y2="151.56" stroke="#2a2a2a" stroke-width="0.6" />
<line x1="385.5" y1="148.68" x2="387.1" y2="148.68" stroke="#2a2a2a" stroke-width="0.6" />
<line x1="684.2" y1="148.68" x2="682.6" y2="148.68" stroke="#2a2a2a" stroke-width="0.6" />
<line x1="385.5" y1="142.92" x2="387.1" y2="142.92" stroke="#2a2a2a" stroke-width="0.6" />
<line x1="684.2" y1="142.92" x2="682.6" y2="142.92" stroke="#2a2a2a" stroke-width="0.6" />
<line x1="385.5" y1="140.04" x2="387.1" y2="140.04" stroke="#2a2a2a" stroke-width="0.6" />
<line x1="684.2" y1="140.04" x2="682.6" y2="140.04" stroke="#2a2a2a" stroke-width="0.6" />
<line x1="385.5" y1="137.16" x2="387.1" y2="137.16" stroke="#2a2a2a" stroke-width="0.6" />
<line x1="684.2" y1="137.16" x2="682.6" y2="137.16" stroke="#2a2a2a" stroke-width="0.6" />
<line x1="385.5" y1="134.28" x2="387.1" y2="134.28" stroke="#2a2a2a" stroke-width="0.6" />
<line x1="684.2" y1="134.28" x2="682.6" y2="134.28" stroke="#2a2a2a" stroke-width="0.6" />
<line x1="385.5" y1="128.52" x2="387.1" y2="128.52" stroke="#2a2a2a" stroke-width="0.6" />
<line x1="684.2" y1="128.52" x2="682.6" y2="128.52" stroke="#2a2a2a" stroke-width="0.6" />
<rect x="385.5" y="127.3" width="298.7" height="94.5" fill="none" stroke="#2a2a2a" stroke-width="0.95"/>
<g class="tx">
<text x="123" y="11.7" font-size="13.2" textLength="13.5" lengthAdjust="spacingAndGlyphs" >pp</text>
<path d="M141,8.4H152.6" stroke="#111" stroke-width="0.8" fill="none"/>
<path d="M149.3,5.5Q150,7.7 152.9,8.4Q150,9.1 149.3,11.3" stroke="#111" stroke-width="0.8" fill="none"/>
<text x="157.5" y="11.7" font-size="13.2" textLength="19.7" lengthAdjust="spacingAndGlyphs" >ZW</text>
<path d="M178.6,4.9H184.8M181.7,2.1V7.7" stroke="#111" stroke-width="0.7" fill="none"/>
<path d="M189.9,8.4H201.6" stroke="#111" stroke-width="0.8" fill="none"/>
<path d="M198.3,5.5Q199,7.7 201.9,8.4Q199,9.1 198.3,11.3" stroke="#111" stroke-width="0.8" fill="none"/>
<text x="205.7" y="11.7" font-size="13.9" textLength="5.6" lengthAdjust="spacingAndGlyphs" font-style="italic" >ℓ</text>
<text x="211.4" y="11.7" font-size="13.9" textLength="5.6" lengthAdjust="spacingAndGlyphs" font-style="italic" >ℓ</text>
<text x="217.1" y="11.7" font-size="13.9" textLength="5.6" lengthAdjust="spacingAndGlyphs" font-style="italic" >ℓ</text>
<path d="M214,0.9H218.4M219.4,0.9H223.6" stroke="#111" stroke-width="0.75"/>
<path d="M225.3,1.9L223.4,5.1" stroke="#111" stroke-width="0.9"/>
<text x="226" y="11.7" font-size="14.2" textLength="6.8" lengthAdjust="spacingAndGlyphs" font-style="italic" >ν</text>
<text x="232.4" y="13.7" font-size="9.8" textLength="4.2" lengthAdjust="spacingAndGlyphs" font-style="italic" >ℓ</text>
<path d="M238.2,7.4L236.9,9.9" stroke="#111" stroke-width="0.75"/>
<path d="M242.1,8.3H251M246.55,4V12.6" stroke="#111" stroke-width="0.8" fill="none"/>
<text x="254.4" y="11.7" font-size="13.2" textLength="9.4" lengthAdjust="spacingAndGlyphs" >X</text>
<text x="465.2" y="11.7" font-size="13.2" textLength="13.5" lengthAdjust="spacingAndGlyphs" >pp</text>
<path d="M483.2,8.4H494.8" stroke="#111" stroke-width="0.8" fill="none"/>
<path d="M491.5,5.5Q492.2,7.7 495.1,8.4Q492.2,9.1 491.5,11.3" stroke="#111" stroke-width="0.8" fill="none"/>
<text x="499.7" y="11.7" font-size="13.2" textLength="19.7" lengthAdjust="spacingAndGlyphs" >ZW</text>
<path d="M520.8,4.9H527M523.9,2.1V7.7" stroke="#111" stroke-width="0.7" fill="none"/>
<path d="M532.1,8.4H543.8" stroke="#111" stroke-width="0.8" fill="none"/>
<path d="M540.5,5.5Q541.2,7.7 544.1,8.4Q541.2,9.1 540.5,11.3" stroke="#111" stroke-width="0.8" fill="none"/>
<text x="547.9" y="11.7" font-size="13.9" textLength="5.6" lengthAdjust="spacingAndGlyphs" font-style="italic" >ℓ</text>
<text x="553.6" y="11.7" font-size="13.9" textLength="5.6" lengthAdjust="spacingAndGlyphs" font-style="italic" >ℓ</text>
<text x="559.3" y="11.7" font-size="13.9" textLength="5.6" lengthAdjust="spacingAndGlyphs" font-style="italic" >ℓ</text>
<path d="M556.2,0.9H560.6M561.6,0.9H565.8" stroke="#111" stroke-width="0.75"/>
<path d="M567.5,1.9L565.6,5.1" stroke="#111" stroke-width="0.9"/>
<text x="568.2" y="11.7" font-size="14.2" textLength="6.8" lengthAdjust="spacingAndGlyphs" font-style="italic" >ν</text>
<text x="574.6" y="13.7" font-size="9.8" textLength="4.2" lengthAdjust="spacingAndGlyphs" font-style="italic" >ℓ</text>
<path d="M580.4,7.4L579.1,9.9" stroke="#111" stroke-width="0.75"/>
<path d="M584.3,8.3H593.2M588.75,4V12.6" stroke="#111" stroke-width="0.8" fill="none"/>
<text x="596.6" y="11.7" font-size="13.2" textLength="9.4" lengthAdjust="spacingAndGlyphs" >X</text>
<text x="145.1" y="232.7" font-size="11.0" textLength="10" lengthAdjust="spacingAndGlyphs" >10</text>
<text x="154.8" y="229.2" font-size="7.6" >2</text>
<text x="320.55" y="232.7" font-size="11.0" textLength="10" lengthAdjust="spacingAndGlyphs" >10</text>
<text x="330.25" y="229.2" font-size="7.6" >3</text>
<text x="486.25" y="232.7" font-size="11.0" textLength="10" lengthAdjust="spacingAndGlyphs" >10</text>
<text x="495.95" y="229.2" font-size="7.6" >2</text>
<text x="665.05" y="232.7" font-size="11.0" textLength="10" lengthAdjust="spacingAndGlyphs" >10</text>
<text x="674.75" y="229.2" font-size="7.6" >3</text>
<text x="163.6" y="247.5" font-size="13.8" textLength="6.9" lengthAdjust="spacingAndGlyphs" font-style="italic" >p</text>
<text x="170.9" y="251" font-size="9.8" textLength="8.4" lengthAdjust="spacingAndGlyphs" >T,</text>
<text x="179.9" y="251" font-size="9.8" textLength="7.6" lengthAdjust="spacingAndGlyphs" font-style="italic" >ℓℓ</text>
<path d="M183.7,242.1H187.2" stroke="#111" stroke-width="0.55"/>
<text x="192.5" y="248.3" font-size="13.2" textLength="28.4" lengthAdjust="spacingAndGlyphs" >[GeV]</text>
<text x="505.8" y="247.5" font-size="13.8" textLength="6.9" lengthAdjust="spacingAndGlyphs" font-style="italic" >p</text>
<text x="513.1" y="251" font-size="9.8" textLength="8.4" lengthAdjust="spacingAndGlyphs" >T,</text>
<text x="522.1" y="251" font-size="9.8" textLength="7.6" lengthAdjust="spacingAndGlyphs" font-style="italic" >ℓℓ</text>
<path d="M525.9,242.1H529.4" stroke="#111" stroke-width="0.55"/>
<text x="534.7" y="248.3" font-size="13.2" textLength="28.4" lengthAdjust="spacingAndGlyphs" >[GeV]</text>
<text x="23.6" y="50.6" font-size="11.0" textLength="10.3" lengthAdjust="spacingAndGlyphs" >10</text>
<path d="M34.69,45.11H39.56" stroke="#111" stroke-width="0.75"/>
<text x="39.93" y="47.4" font-size="7.7" >4</text>
<text x="23.6" y="89.6" font-size="11.0" textLength="10.3" lengthAdjust="spacingAndGlyphs" >10</text>
<path d="M34.69,84.11H39.56" stroke="#111" stroke-width="0.75"/>
<text x="39.93" y="86.4" font-size="7.7" >5</text>
<text x="33.49" y="140.27" font-size="11.02" >1</text>
<text x="38.79" y="140.27" font-size="11.02" >0</text>
<text x="38.79" y="172.42" font-size="11.02" >0</text>
<path d="M25.99,201.92H32.96" stroke="#111" stroke-width="0.75"/>
<text x="33.49" y="204.57" font-size="11.02" >1</text>
<text x="38.79" y="204.57" font-size="11.02" >0</text>
<path d="M370.39,107.74H377.36" stroke="#111" stroke-width="0.75"/>
<text x="377.89" y="110.39" font-size="11.02" >3</text>
<path d="M370.39,90.66H377.36" stroke="#111" stroke-width="0.75"/>
<text x="377.89" y="93.31" font-size="11.02" >2</text>
<path d="M370.39,73.58H377.36" stroke="#111" stroke-width="0.75"/>
<text x="377.89" y="76.23" font-size="11.02" >1</text>
<text x="377.89" y="59.15" font-size="11.02" >0</text>
<text x="377.89" y="42.07" font-size="11.02" >1</text>
<text x="377.89" y="24.99" font-size="11.02" >2</text>
<path d="M362.14,219.05H369.12" stroke="#111" stroke-width="0.75"/>
<text x="369.65" y="221.7" font-size="11.02" >3</text>
<circle cx="376.53" cy="221.15" r="0.62" fill="#111"/>
<text x="377.89" y="221.7" font-size="11.02" >0</text>
<path d="M362.14,204.65H369.12" stroke="#111" stroke-width="0.75"/>
<text x="369.65" y="207.3" font-size="11.02" >2</text>
<circle cx="376.53" cy="206.75" r="0.62" fill="#111"/>
<text x="377.89" y="207.3" font-size="11.02" >5</text>
<path d="M362.14,190.25H369.12" stroke="#111" stroke-width="0.75"/>
<text x="369.65" y="192.9" font-size="11.02" >2</text>
<circle cx="376.53" cy="192.35" r="0.62" fill="#111"/>
<text x="377.89" y="192.9" font-size="11.02" >0</text>
<path d="M362.14,175.85H369.12" stroke="#111" stroke-width="0.75"/>
<text x="369.65" y="178.5" font-size="11.02" >1</text>
<circle cx="376.53" cy="177.95" r="0.62" fill="#111"/>
<text x="377.89" y="178.5" font-size="11.02" >5</text>
<path d="M362.14,161.45H369.12" stroke="#111" stroke-width="0.75"/>
<text x="369.65" y="164.1" font-size="11.02" >1</text>
<circle cx="376.53" cy="163.55" r="0.62" fill="#111"/>
<text x="377.89" y="164.1" font-size="11.02" >0</text>
<path d="M362.14,147.05H369.12" stroke="#111" stroke-width="0.75"/>
<text x="369.65" y="149.7" font-size="11.02" >0</text>
<circle cx="376.53" cy="149.15" r="0.62" fill="#111"/>
<text x="377.89" y="149.7" font-size="11.02" >5</text>
<text x="369.65" y="135.3" font-size="11.02" >0</text>
<circle cx="376.53" cy="134.75" r="0.62" fill="#111"/>
<text x="377.89" y="135.3" font-size="11.02" >0</text>
<text transform="translate(11.3,78.3) rotate(-90)" font-size="13.2" textLength="42.6" lengthAdjust="spacingAndGlyphs">[pb GeV</text>
<path d="M4.4,35V28.6" stroke="#111" stroke-width="0.75"/>
<text transform="translate(7.2,28.4) rotate(-90)" font-size="9.4" textLength="3.2" lengthAdjust="spacingAndGlyphs">1</text>
<text transform="translate(11.3,25.1) rotate(-90)" font-size="13.2" textLength="3" lengthAdjust="spacingAndGlyphs">]</text>
<path d="M8.5,84.2V106.7" stroke="#111" stroke-width="0.65"/>
<text transform="translate(7.3,102.3) rotate(-90)" font-size="9.6" textLength="11.6" lengthAdjust="spacingAndGlyphs">d<tspan font-style="italic">σ</tspan></text>
<text transform="translate(15.4,106.6) rotate(-90)" font-size="9.6" textLength="23.4" lengthAdjust="spacingAndGlyphs">d<tspan font-style="italic">p</tspan><tspan font-size="7.2" dy="1.9">T,<tspan font-style="italic">ℓℓ</tspan></tspan></text>
<text transform="translate(18,173.95) rotate(-90)" text-anchor="middle" font-size="13.2" textLength="108.2" lengthAdjust="spacingAndGlyphs">NLO EW on/off [%]</text>
<text transform="translate(362.8,63.35) rotate(-90)" text-anchor="middle" font-size="13.2" textLength="111" lengthAdjust="spacingAndGlyphs">PDF uncertainty [%]</text>
<text transform="translate(354.3,173.5) rotate(-90)" text-anchor="middle" font-size="13.2" textLength="40.5" lengthAdjust="spacingAndGlyphs">Pull [<tspan font-style="italic">σ</tspan>]</text>
<line x1="45.8" y1="119.4" x2="62.4" y2="119.4" stroke="#f01e2c" stroke-width="1.0"/>
<text x="68" y="121.8" font-size="8.0" textLength="37.1" lengthAdjust="spacingAndGlyphs" >NLO QCD</text>
<line x1="108" y1="119.4" x2="124" y2="119.4" stroke="#4169e1" stroke-width="1.0"/>
<text x="129.7" y="121.8" font-size="8.0" textLength="55.6" lengthAdjust="spacingAndGlyphs" >NLO QCD+EW</text>
<rect x="189.2" y="116.7" width="15.6" height="5.4" fill="#b3c3f3"/>
<text x="211.2" y="121.8" font-size="8.0" textLength="46.2" lengthAdjust="spacingAndGlyphs" >7-p. scale var.</text>
<path d="M268.5,115.1V123.8M267.6,115.4H269.4M267.6,123.5H269.4" stroke="#4169e1" stroke-width="0.9" fill="none"/>
<text x="282.6" y="121.8" font-size="8.0" textLength="57.6" lengthAdjust="spacingAndGlyphs" >PDF uncertainty</text>
<line x1="385.1" y1="120" x2="401.5" y2="120" stroke="#4169e1" stroke-width="1.0"/>
<text x="407.3" y="122.4" font-size="8.0" textLength="38" lengthAdjust="spacingAndGlyphs" >NNPDF4.0</text>
<line x1="453.1" y1="120" x2="469.5" y2="120" stroke="#b83a3a" stroke-width="1.0"/>
<text x="475.5" y="122.4" font-size="8.0" textLength="37.4" lengthAdjust="spacingAndGlyphs" >NNPDF3.1</text>
<line x1="521.2" y1="120" x2="537.3" y2="120" stroke="#ffa033" stroke-width="1.0"/>
<text x="543.2" y="122.4" font-size="8.0" textLength="31" lengthAdjust="spacingAndGlyphs" >MSHT20</text>
<line x1="582" y1="120" x2="598.1" y2="120" stroke="#2f8a2f" stroke-width="1.0"/>
<text x="603.5" y="122.4" font-size="8.0" textLength="20.1" lengthAdjust="spacingAndGlyphs" >CT18</text>
<line x1="631.1" y1="120" x2="647.3" y2="120" stroke="#9b36b7" stroke-width="1.0"/>
<text x="653.2" y="122.4" font-size="8.0" textLength="31.5" lengthAdjust="spacingAndGlyphs" >ABMP16</text>
</g>
</svg>
</body></html>
